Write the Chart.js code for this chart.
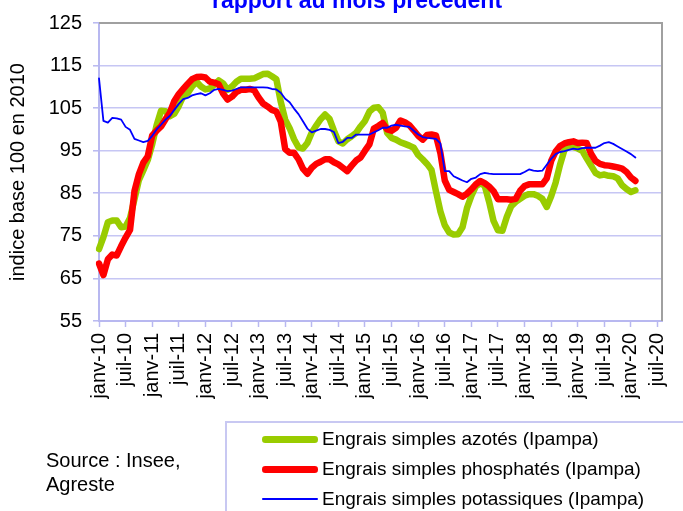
<!DOCTYPE html>
<html>
<head>
<meta charset="utf-8">
<script src="https://cdn.jsdelivr.net/npm/chart.js@4"></script>
<style>
  body { margin: 0; background: #fff; font-family: "Liberation Sans", Arial, sans-serif; }
  #wrap { position: relative; width: 683px; height: 511px; overflow: hidden; }
  #engraisChart { position: absolute; left: 0; top: 0; }
  #title { position: absolute; left: 157px; top: -11px; width: 400px; text-align: center;
           font: bold 23px "Liberation Sans", Arial, sans-serif; line-height: 23px; color: #0000ff; white-space: nowrap; }
  #source { position: absolute; left: 46px; top: 448px; font-size: 20px; line-height: 24px; color: #000; }
  #legend { position: absolute; left: 225px; top: 421px; width: 480px; height: 110px;
            border: 2px solid #c8c8f2; background: #fff; }
  .row { position: absolute; left: 35px; height: 30px; display: flex; align-items: center; white-space: nowrap; font-size: 19px; }
  .sample { width: 56px; margin-right: 4px; }
</style>
</head>
<body>
<div id="wrap">
  <canvas id="engraisChart" width="683" height="511"></canvas>
  <div id="title">rapport au mois précédent</div>
  <div id="source">Source : Insee,<br>Agreste</div>
  <div id="legend"></div>
</div>
<script>
// categories: months from janv-10 to août-20
var monthNames = ['janv','févr','mars','avr','mai','juin','juil','août','sept','oct','nov','déc'];
var years = ['10','11','12','13','14','15','16','17','18','19','20'];
var months = [];
years.forEach(function (y) {
  monthNames.forEach(function (m) { months.push(m + '-' + y); });
});
months = months.slice(0, 128);

// indices base 100 en 2010, janv-10 .. févr-20
var azotes = [
  71.9, 74.7, 78.2, 78.6, 78.6, 77.0, 77.2, 79.2, 83.6, 88.1,
  90.4, 92.8, 96.5, 101.0, 104.4, 104.3, 103.1, 103.7, 105.5, 107.8,
  108.5, 110.1, 111.2, 110.1, 109.4, 109.6, 110.5, 111.5, 110.8, 109.3,
  110.1, 111.2, 111.9, 111.9, 111.9, 112.0, 112.5, 113.0, 113.1, 112.5,
  111.8, 106.5, 102.3, 100.3, 97.7, 95.8, 95.5, 96.8, 99.3, 100.9,
  102.4, 103.5, 102.5, 99.7, 97.2, 96.7, 97.7, 98.4, 99.2, 100.7,
  102.0, 104.2, 105.1, 105.2, 103.9, 99.2, 98.0, 97.6, 97.0, 96.6,
  96.2, 95.7, 94.0, 93.0, 91.9, 90.5, 85.5, 80.8, 77.5, 75.8,
  75.3, 75.4, 77.0, 81.5, 84.4, 86.6, 87.4, 86.8, 83.0, 78.5,
  76.3, 76.2, 79.5, 82.0, 83.0, 83.7, 84.4, 84.8, 84.8, 84.4,
  83.7, 81.8, 84.3, 87.5, 91.7, 95.2, 96.1, 95.9, 95.5, 95.0,
  93.2, 91.5, 89.8, 89.2, 89.4, 89.1, 89.0, 88.5, 86.9, 86.0,
  85.3, 85.7
];
var phosphates = [
  68.5, 65.8, 69.5, 70.6, 70.4, 72.6, 74.6, 76.4, 85.5, 89.5,
  92.2, 93.7, 98.6, 99.7, 100.7, 102.4, 104.0, 106.7, 108.3, 109.5,
  110.7, 111.8, 112.3, 112.4, 112.2, 111.2, 111.0, 110.6, 108.4, 107.0,
  107.7, 108.8, 109.3, 109.3, 109.5, 109.2, 107.5, 106.1, 105.4, 104.6,
  104.2, 101.8, 95.4, 94.5, 94.5, 93.0, 90.8, 89.6, 91.0, 91.9,
  92.4, 93.0, 93.0, 92.3, 91.8, 91.0, 90.2, 91.5, 92.7, 93.4,
  95.0, 96.5, 100.2, 100.8, 101.5, 100.0, 99.7, 100.4, 102.1, 101.7,
  101.0, 99.8, 98.5, 97.6, 98.7, 98.8, 98.6, 94.5, 88.0, 85.8,
  85.3, 84.8, 84.2, 84.9, 85.9, 87.1, 87.9, 87.4, 86.6, 85.5,
  83.6, 83.6, 83.6, 83.5, 83.7, 85.6, 86.7, 87.1, 87.1, 87.1,
  87.1, 88.5, 92.6, 94.8, 96.1, 96.7, 97.0, 97.2, 96.8, 96.9,
  96.8, 94.3, 92.6, 91.9, 91.6, 91.5, 91.3, 91.1, 90.8, 90.0,
  88.7, 87.9
];
var potassiques = [
  112.0, 102.0, 101.6, 102.7, 102.6, 102.3, 100.6, 99.9, 97.8, 97.4,
  97.0, 97.3, 98.5, 100.0, 101.1, 102.3, 103.2, 104.6, 106.0, 107.1,
  107.4, 108.0, 108.3, 108.5, 108.0, 108.5, 109.3, 109.5, 109.3, 109.0,
  109.1, 109.5, 109.9, 109.9, 109.9, 109.9, 109.9, 109.9, 109.8, 109.5,
  109.4, 108.6, 107.2, 106.4, 104.9, 103.6, 101.9, 100.2, 99.3, 99.7,
  100.1, 100.1, 99.9, 99.4, 96.8, 97.1, 98.0, 98.0, 98.8, 98.8,
  98.8, 98.8, 99.3, 99.8, 100.4, 100.4, 100.9, 101.1, 100.9, 100.7,
  100.6, 99.7, 98.8, 98.2, 98.0, 97.9, 97.8, 96.7, 90.2, 90.2,
  89.0, 88.5, 88.0, 87.6, 88.4, 88.7, 89.5, 89.8, 89.6, 89.5,
  89.5, 89.5, 89.5, 89.5, 89.5, 89.5, 90.0, 90.6, 90.3, 90.2,
  90.3, 91.7, 93.1, 94.2, 94.7, 94.9, 95.2, 95.5, 95.3, 95.6,
  95.7, 95.7, 95.7, 96.2, 96.8, 97.0, 96.6, 96.0, 95.4, 94.8,
  94.2, 93.4
];

var lavender = '#c6c6f4';
var axisColor = '#b8b8f0';

// gray frame on top and right of the plot area
var frame = {
  id: 'frame',
  beforeDatasetsDraw: function (chart) {
    var a = chart.chartArea, c = chart.ctx;
    c.save();
    c.strokeStyle = '#a0a0a0';
    c.lineWidth = 2;
    c.beginPath();
    c.moveTo(a.left, a.top);
    c.lineTo(a.right, a.top);
    c.lineTo(a.right, a.bottom);
    c.stroke();
    c.restore();
  }
};

var ctx = document.getElementById('engraisChart');
var engraisChart = new Chart(ctx, {
  type: 'line',
  data: {
    labels: months,
    datasets: [
      { label: 'Engrais simples azotés (Ipampa)', data: azotes, borderColor: '#99cc00', borderWidth: 6.5, order: 3 },
      { label: 'Engrais simples phosphatés (Ipampa)', data: phosphates, borderColor: '#ff0000', borderWidth: 6.5, order: 2 },
      { label: 'Engrais simples potassiques (Ipampa)', data: potassiques, borderColor: '#0000ff', borderWidth: 1.8, order: 1 }
    ]
  },
  options: {
    responsive: false,
    animation: false,
    devicePixelRatio: 1,
    layout: { padding: { left: 0, top: 22, right: 21, bottom: 0 } },
    elements: {
      point: { radius: 0 },
      line: { tension: 0, fill: false, borderJoinStyle: 'round', borderCapStyle: 'round' }
    },
    plugins: { legend: { display: false }, tooltip: { enabled: false } },
    scales: {
      x: {
        type: 'category',
        offset: false,
        border: { color: axisColor, width: 2 },
        grid: {
          drawOnChartArea: false,
          tickLength: 6,
          tickWidth: 1.5,
          color: function (c) { return c.index % 6 === 0 ? axisColor : 'rgba(0,0,0,0)'; },
          tickColor: function (c) { return c.index % 6 === 0 ? axisColor : 'rgba(0,0,0,0)'; }
        },
        ticks: {
          autoSkip: false,
          maxRotation: 90,
          minRotation: 90,
          padding: 6,
          color: '#000',
          font: { family: '"Liberation Sans", Arial, sans-serif', size: 20 },
          callback: function (v, i) { return i % 6 === 0 ? this.getLabelForValue(v) : ''; }
        },
        afterFit: function (s) {
          s.height = 190;
          s.paddingLeft = 0;
          s.paddingRight = 0;
        }
      },
      y: {
        min: 55,
        max: 125,
        border: { color: axisColor, width: 2 },
        grid: {
          color: function (c) { return (c.tick.value === 125 || c.tick.value === 55) ? 'rgba(0,0,0,0)' : lavender; },
          lineWidth: 1.6,
          borderDash: [5, 3],
          tickLength: 6,
          tickColor: axisColor,
          tickWidth: 1.5,
          tickBorderDash: []
        },
        ticks: {
          stepSize: 10,
          padding: 11,
          color: '#000',
          font: { family: '"Liberation Sans", Arial, sans-serif', size: 20 }
        },
        title: {
          display: true,
          text: 'indice base 100 en 2010',
          color: '#000',
          padding: { top: 6, bottom: 0 },
          font: { family: '"Liberation Sans", Arial, sans-serif', size: 20 }
        },
        afterFit: function (s) { s.width = 99; }
      }
    }
  },
  plugins: [frame]
});

// legend box built from the datasets
var legend = document.getElementById('legend');
engraisChart.data.datasets.forEach(function (ds, i) {
  var row = document.createElement('div');
  row.className = 'row';
  row.style.top = (1 + i * 30) + 'px';
  var s = document.createElement('span');
  s.className = 'sample';
  s.style.height = Math.round(ds.borderWidth) + 'px';
  s.style.background = ds.borderColor;
  s.style.borderRadius = (ds.borderWidth / 2) + 'px';
  row.appendChild(s);
  row.appendChild(document.createTextNode(ds.label));
  legend.appendChild(row);
});
</script>
</body>
</html>
